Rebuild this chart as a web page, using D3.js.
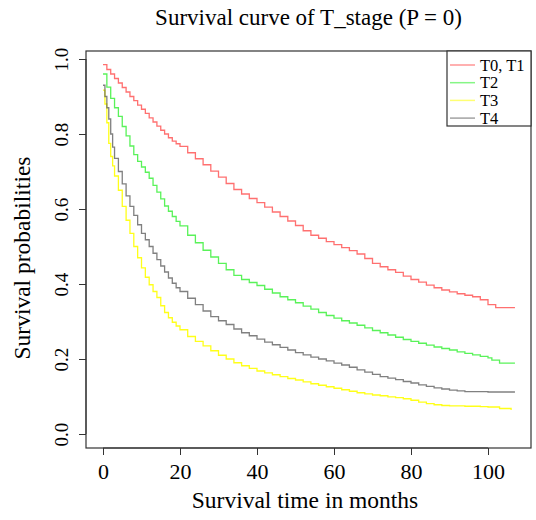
<!DOCTYPE html>
<html>
<head>
<meta charset="utf-8">
<script src="https://cdn.jsdelivr.net/npm/d3@7"></script>
<style>
  body { margin: 0; background: #fff; }
  text { font-family: "Liberation Serif", "Times New Roman", serif; fill: #000; }
</style>
</head>
<body>
<div id="chart"></div>
<script>
// Survival curves (Kaplan-Meier)
const groups = ["T0, T1", "T2", "T3", "T4"];
const colors = ["#ff4040", "#22ee22", "#ffff00", "#555555"];

const monthsT01 = [0,1,2,3,4,5,6,7,8,9,10,11,12,13,14,15,16,17,18,19,20,22,24,26,28,30,32,34,36,38,40,42,44,46,48,50,52,54,56,58,60,62,64,66,68,70,72,74,76,78,80,82,84,86,88,90,92,94,96,98,100,102,107];
const survT01 = [0.985,0.972,0.960,0.948,0.936,0.924,0.912,0.900,0.889,0.877,0.866,0.855,0.843,0.832,0.821,0.810,0.800,0.790,0.781,0.774,0.767,0.750,0.734,0.718,0.701,0.685,0.668,0.652,0.640,0.628,0.617,0.605,0.592,0.580,0.568,0.556,0.542,0.530,0.522,0.513,0.505,0.497,0.489,0.480,0.468,0.455,0.446,0.438,0.431,0.421,0.412,0.405,0.397,0.390,0.384,0.379,0.374,0.370,0.366,0.358,0.345,0.337,0.337];

const monthsT2 = [0,1,2,3,4,5,6,7,8,9,10,11,12,13,14,15,16,17,18,19,20,22,24,26,28,30,32,34,36,38,40,42,44,46,48,50,52,54,56,58,60,62,64,66,68,70,72,74,76,78,80,82,84,86,88,90,92,94,96,98,100,101,103,107];
const survT2 = [0.960,0.925,0.895,0.870,0.847,0.820,0.795,0.768,0.745,0.727,0.712,0.698,0.682,0.663,0.645,0.627,0.608,0.594,0.580,0.567,0.555,0.530,0.510,0.490,0.472,0.455,0.438,0.423,0.412,0.404,0.396,0.386,0.376,0.366,0.358,0.350,0.341,0.333,0.324,0.316,0.309,0.302,0.296,0.290,0.283,0.276,0.270,0.264,0.258,0.252,0.247,0.242,0.237,0.232,0.228,0.224,0.219,0.215,0.211,0.207,0.203,0.197,0.189,0.189];

const monthsT3 = [0,0.5,1,1.5,2,2.5,3,4,5,6,7,8,9,10,11,12,13,14,15,16,17,18,19,20,22,24,26,28,30,32,34,36,38,40,42,44,46,48,50,52,54,56,58,60,62,64,66,68,70,72,74,76,78,80,82,84,86,88,90,92,94,96,98,100,103,106];
const survT3 = [0.917,0.880,0.830,0.775,0.740,0.715,0.688,0.650,0.607,0.570,0.535,0.500,0.470,0.443,0.418,0.398,0.380,0.364,0.342,0.324,0.310,0.298,0.288,0.278,0.260,0.247,0.235,0.222,0.210,0.200,0.190,0.182,0.175,0.168,0.163,0.158,0.153,0.148,0.144,0.139,0.134,0.130,0.126,0.122,0.118,0.114,0.110,0.107,0.104,0.102,0.099,0.097,0.094,0.090,0.085,0.081,0.078,0.076,0.075,0.075,0.074,0.074,0.073,0.072,0.068,0.064];

const monthsT4 = [0,0.5,1,1.5,2,2.5,3,4,5,6,7,8,9,10,11,12,13,14,15,16,17,18,19,20,22,24,26,28,30,32,34,36,38,40,42,44,46,48,50,52,54,56,58,60,62,64,66,68,70,72,74,76,78,80,82,84,86,88,90,92,94,96,100,107];
const survT4 = [0.930,0.900,0.870,0.840,0.800,0.765,0.735,0.700,0.667,0.635,0.607,0.583,0.558,0.535,0.518,0.500,0.482,0.465,0.448,0.432,0.416,0.402,0.390,0.380,0.362,0.345,0.328,0.313,0.302,0.292,0.280,0.270,0.262,0.253,0.245,0.238,0.231,0.224,0.217,0.211,0.205,0.200,0.195,0.189,0.184,0.178,0.171,0.165,0.159,0.153,0.149,0.145,0.140,0.136,0.131,0.127,0.123,0.120,0.117,0.115,0.113,0.113,0.112,0.112];

const xTicks = [0, 20, 40, 60, 80, 100];
const yTicks = [0.0, 0.2, 0.4, 0.6, 0.8, 1.0];

const series = [
    { name: groups[0], color: colors[0], months: monthsT01, surv: survT01 },
    { name: groups[1], color: colors[1], months: monthsT2, surv: survT2 },
    { name: groups[2], color: colors[2], months: monthsT3, surv: survT3 },
    { name: groups[3], color: colors[3], months: monthsT4, surv: survT4 }
];

const width = 536, height = 520;
const box = { left: 86, right: 531, top: 51, bottom: 448 };

const svg = d3.select("#chart").append("svg")
    .attr("width", width)
    .attr("height", height);

const x = d3.scaleLinear().domain([0, 100]).range([103, 488]);
const y = d3.scaleLinear().domain([0, 1]).range([434, 59]);

// plot box
svg.append("rect")
    .attr("x", box.left).attr("y", box.top)
    .attr("width", box.right - box.left).attr("height", box.bottom - box.top)
    .attr("fill", "none").attr("stroke", "#333").attr("stroke-width", 1.2);

// curves
const line = d3.line()
    .x(d => x(d[0]))
    .y(d => y(d[1]))
    .curve(d3.curveStepAfter);

svg.append("g")
    .selectAll("path")
    .data(series)
    .join("path")
    .attr("d", s => line(d3.zip(s.months, s.surv)))
    .attr("fill", "none")
    .attr("stroke", s => s.color)
    .attr("stroke-opacity", s => s.color === "#ffff00" ? 0.9 : 0.75)
    .attr("stroke-width", 1.3);

// x axis
const xAxis = svg.append("g")
    .attr("transform", `translate(0,${box.bottom})`)
    .call(d3.axisBottom(x).tickValues(xTicks).tickSize(7).tickPadding(8).tickFormat(d3.format("d")));
xAxis.select(".domain").attr("stroke", "#333").attr("d", `M${x(0)},0H${x(100)}`);
xAxis.selectAll(".tick line").attr("stroke", "#333");
xAxis.selectAll(".tick text")
    .attr("font-family", "Liberation Serif, serif")
    .attr("font-size", 22);

// y axis
const yAxis = svg.append("g")
    .attr("transform", `translate(${box.left},0)`)
    .call(d3.axisLeft(y).tickValues(yTicks).tickSize(7).tickFormat(d3.format(".1f")));
yAxis.select(".domain").attr("stroke", "#333").attr("d", `M0,${y(0)}V${y(1)}`);
yAxis.selectAll(".tick line").attr("stroke", "#333");
yAxis.selectAll(".tick text")
    .attr("font-family", "Liberation Serif, serif")
    .attr("font-size", 19)
    .attr("x", null).attr("dy", null)
    .attr("text-anchor", "middle")
    .attr("transform", "translate(-18,0) rotate(-90)");

// titles
svg.append("text")
    .attr("x", (box.left + box.right) / 2).attr("y", 25)
    .attr("text-anchor", "middle")
    .attr("font-size", 23)
    .text("Survival curve of T_stage (P = 0)");

svg.append("text")
    .attr("x", 305).attr("y", 508)
    .attr("text-anchor", "middle")
    .attr("font-size", 23.5)
    .text("Survival time in months");

svg.append("text")
    .attr("transform", "translate(30,258) rotate(-90)")
    .attr("text-anchor", "middle")
    .attr("font-size", 23.5)
    .text("Survival probabilities");

// legend
const legend = svg.append("g");
legend.append("rect")
    .attr("x", 447).attr("y", box.top)
    .attr("width", box.right - 447).attr("height", 126 - box.top)
    .attr("fill", "#fff").attr("stroke", "#333").attr("stroke-width", 1.2);

const item = legend.selectAll("g.item")
    .data(series)
    .join("g")
    .attr("class", "item")
    .attr("transform", (d, i) => `translate(0,${65 + i * 17.7})`);

item.append("line")
    .attr("x1", 450).attr("x2", 475)
    .attr("stroke", d => d.color)
    .attr("stroke-opacity", 0.55)
    .attr("stroke-width", 1.5);

item.append("text")
    .attr("x", 480).attr("y", 5.5)
    .attr("font-size", 16.5)
    .text(d => d.name);
</script>
</body>
</html>
